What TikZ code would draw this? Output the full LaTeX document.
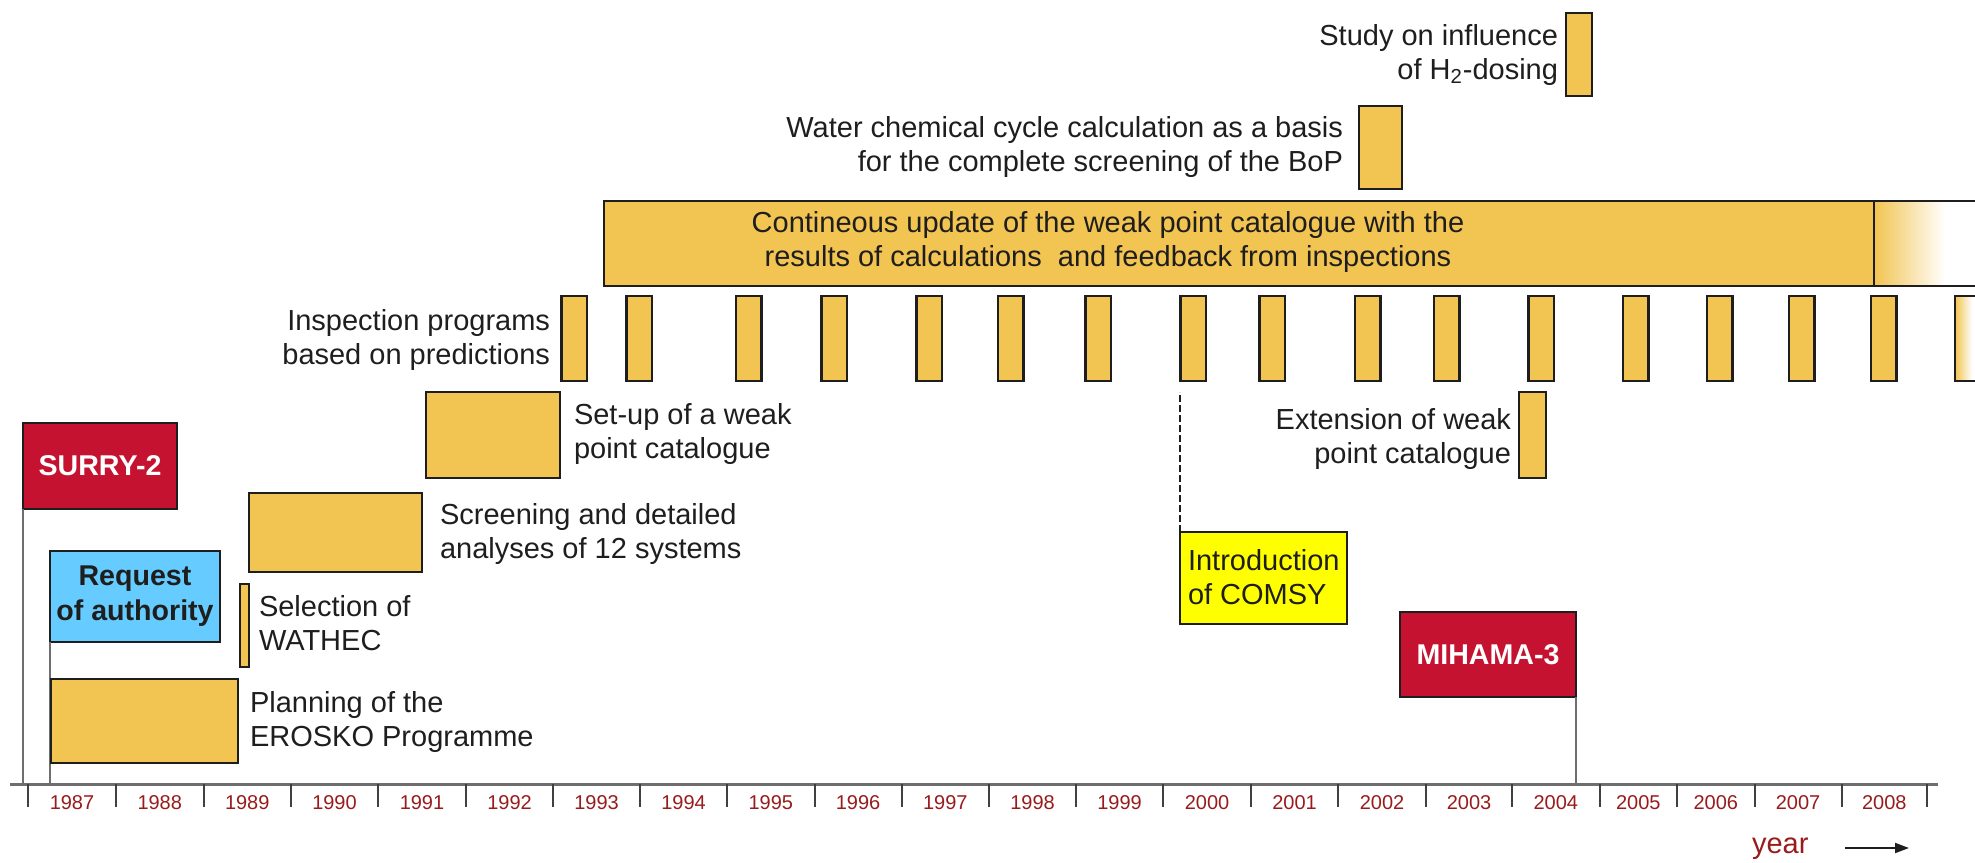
\documentclass[tikz,border=0pt]{standalone}
\usepackage{fontspec}
\setmainfont{Liberation Sans}
\usetikzlibrary{arrows.meta}

\definecolor{barfill}{HTML}{F2C451}
\definecolor{alarmred}{HTML}{C41230}
\definecolor{skyblue}{HTML}{66CCFF}
\definecolor{introyellow}{HTML}{FFFF00}
\definecolor{inkgray}{HTML}{1E1E1E}
\definecolor{stemgray}{HTML}{6E6E6E}
\definecolor{yearred}{HTML}{981C1C}

% rectangle node from corner (x1,y1) to (x2,y2): name, style, x1, y1, x2, y2, text
\newcommand{\tlbox}[7]{%
  \pgfmathsetmacro\tlw{0.5*((#5)-(#3))}%
  \pgfmathsetmacro\tlh{0.5*((#6)-(#4))}%
  \node[#2, minimum width=\tlw pt, minimum height=\tlh pt]
    (#1) at ({((#3)+(#5))/2},{((#4)+(#6))/2}) {#7};}

\begin{document}
\begin{tikzpicture}[x=0.5pt,y=-0.5pt,
  every node/.style={inner sep=0pt,outer sep=0pt,text=inkgray},
  lbl/.style={font=\fontsize{14.5}{17}\selectfont},
  boldlbl/.style={font=\fontsize{14.3}{17.5}\selectfont\bfseries},
  bar/.style={draw=inkgray,fill=barfill,line width=1.1pt},
  redflag/.style={draw=inkgray,fill=alarmred,line width=1.1pt,text=white,boldlbl},
  blueflag/.style={draw=inkgray,fill=skyblue,line width=1.1pt,boldlbl,align=center},
  yellowflag/.style={draw=inkgray,fill=introyellow,line width=1.1pt},
  stem/.style={draw=stemgray,line width=1pt},
  axisline/.style={draw=stemgray,line width=1.5pt},
  tickline/.style={draw=inkgray!85,line width=1pt},
  yearlbl/.style={font=\fontsize{10}{12}\selectfont,text=yearred},
  barline/.style={draw=inkgray,line width=1.1pt},
]
\useasboundingbox (0,0) rectangle (1975,862);
\fill[white] (0,0) rectangle (1975,862);

% time axis
\coordinate (axisL) at (10,784);
\coordinate (axisR) at (1938,784);
\draw[axisline] (axisL) -- (axisR);
\foreach \t in {28,116,203.5,291,378,466,553,640,727,814.5,901.5,989,1076,1163,1251,1338,1426,1512,1599.5,1677,1754.5,1841.5,1927}
  \draw[tickline] (\t,784) -- (\t,807);
\foreach \xa/\xb/\yr in {28/116/1987,116/203.5/1988,203.5/291/1989,291/378/1990,378/466/1991,466/553/1992,553/640/1993,640/727/1994,727/814.5/1995,814.5/901.5/1996,901.5/989/1997,989/1076/1998,1076/1163/1999,1163/1251/2000,1251/1338/2001,1338/1426/2002,1426/1512/2003,1512/1599.5/2004,1599.5/1677/2005,1677/1754.5/2006,1754.5/1841.5/2007,1841.5/1927/2008}
  \node[yearlbl] (yr\yr) at ({(\xa+\xb)/2},803) {\yr};

\node[anchor=base west,font=\fontsize{14.5}{17}\selectfont,text=yearred] (yearword) at (1752,853) {year};
\coordinate (arrS) at (1845,848);
\coordinate (arrE) at (1909,848);
\draw[line width=1pt,inkgray,-{Triangle[length=7pt,width=5pt]}] (arrS) -- (arrE);

% event flags and their stems
\tlbox{surry}{redflag}{23}{423}{177}{509}{SURRY-2}
\draw[stem] (surry.south west) -- (surry.south west |- axisL);
\tlbox{request}{blueflag}{50}{551}{220}{642}{Request\\of authority}
\draw[stem] (request.south west) -- (request.south west |- axisL);
\tlbox{mihama}{redflag}{1400}{612}{1576}{697}{MIHAMA-3}
\draw[stem] (mihama.south east) -- (mihama.south east |- axisL);

% programme phases
\tlbox{planning}{bar}{51}{679}{238}{763}{}
\node[lbl,anchor=west,align=left] (planningtxt) at (250,722) {Planning of the\\EROSKO Programme};
\tlbox{selection}{bar}{240}{584}{249}{667}{}
\node[lbl,anchor=west,align=left] (selectiontxt) at (259,623) {Selection of\\WATHEC};
\tlbox{screening}{bar}{249}{493}{422}{572}{}
\node[lbl,anchor=west,align=left] (screeningtxt) at (440,534) {Screening and detailed\\analyses of 12 systems};
\tlbox{setup}{bar}{426}{392}{560}{478}{}
\node[lbl,anchor=west,align=left] (setuptxt) at (574,434) {Set-up of a weak\\point catalogue};

% inspection programmes
\foreach \bx [count=\i] in {561.5,626.5,736,821.5,916.5,998,1085.5,1180.5,1259.5,1355,1434,1528.5,1623,1707,1789,1871}
  \tlbox{insp\i}{bar}{\bx}{296}{\bx+25.5}{381}{}
\shade[left color=barfill,right color=white] (1955,296) rectangle (1972,381);
\draw[barline] (1975,296) -- (1955,296) -- (1955,381) -- (1975,381);
\node[lbl,anchor=east,align=right] (insptxt) at (550,340) {Inspection programs\\based on predictions};

% continuous catalogue update
\tlbox{update}{bar}{604}{201}{1874}{286}{}
\shade[left color=barfill,right color=white] (1874,201) rectangle (1945,286);
\draw[barline] (update.north east) -- (1975,201);
\draw[barline] (update.south east) -- (1975,286);
\draw[barline] (update.north east) -- (update.south east);
\node[lbl,align=center] (updatetxt) at (1108,242) {Contineous update of the weak point catalogue with the\\results of calculations\ \ and feedback from inspections};

% later studies
\tlbox{water}{bar}{1359}{106}{1402}{189}{}
\node[lbl,anchor=east,align=right] (watertxt) at (1343,147) {Water chemical cycle calculation as a basis\\for the complete screening of the BoP};
\tlbox{hdose}{bar}{1566}{13}{1592}{96}{}
\node[lbl,anchor=east,align=right] (hdosetxt) at (1558,55) {Study on influence\\of H\textsubscript{2}-dosing};
\tlbox{extension}{bar}{1519}{392}{1546}{478}{}
\node[lbl,anchor=east,align=right] (extensiontxt) at (1511,439) {Extension of weak\\point catalogue};

% COMSY introduction
\tlbox{comsy}{yellowflag}{1180}{532}{1347}{624}{}
\node[lbl,anchor=west,align=left] (comsytxt) at (1188,577) {Introduction\\of COMSY};
\draw[inkgray,line width=0.7pt,dash pattern=on 3.3pt off 1.7pt] (comsy.north west) -- (comsy.north west |- 0,392);
\end{tikzpicture}
\end{document}
